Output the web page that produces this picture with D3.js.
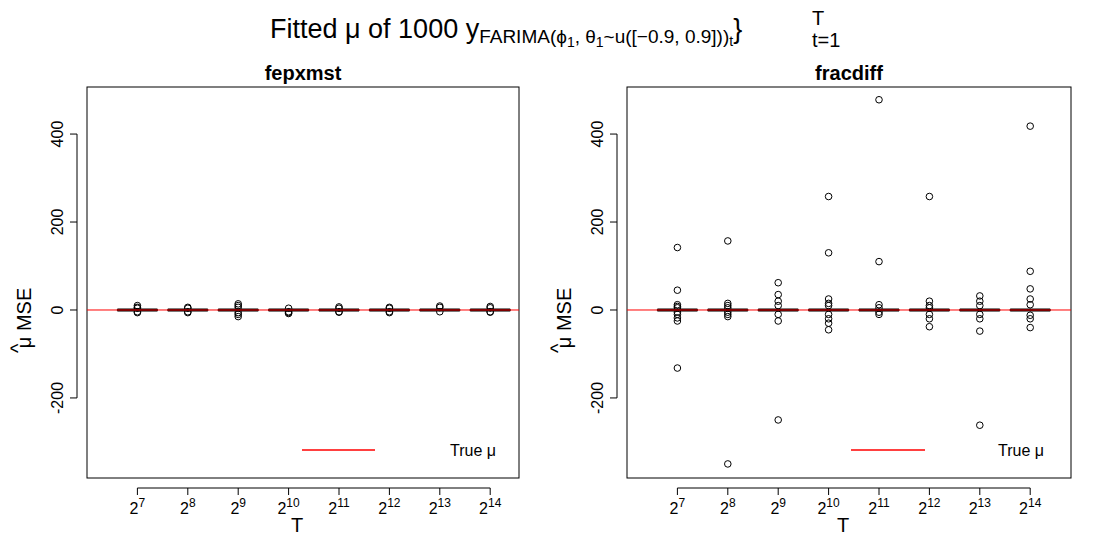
<!DOCTYPE html><html><head><meta charset="utf-8"><script src="https://cdn.jsdelivr.net/npm/d3@7"></script>
<style>body{margin:0;background:#fff}text{font-family:"Liberation Sans",Arial,sans-serif}</style></head><body>
<svg id="c" width="1100" height="550"></svg>
<script>
const categories=[7,8,9,10,11,12,13,14];
const panelNames=["fepxmst","fracdiff"];
const yTicks=[-200,0,200,400];
// box stats [q1, median, q3, whiskerLow, whiskerHigh] per group
const boxFep=[[-1,0,1,-3,3],[-1,0,1,-3,3],[-1,0,1,-3,3],[-1,0,1,-3,3],[-1,0,1,-3,3],[-1,0,1,-3,3],[-1,0,1,-3,3],[-1,0,1,-3,3]];
const outFep=[[10,6,4,-4,-6],[6,4,-4,-6],[14,10,6,-6,-10,-15],[4,-4,-6,-8],[7,4,-4,-5],[6,4,-4,-6],[9,6,-4],[8,5,-4,-5]];
const boxFrac=[[-1,0,1,-3,3],[-1,0,1,-3,3],[-1,0,1,-3,3],[-1,0,1,-3,3],[-1,0,1,-3,3],[-1,0,1,-3,3],[-1,0,1,-3,3],[-1,0,1,-3,3]];
const outFrac=[[142,45,12,8,5,-5,-10,-18,-25,-132],[157,15,10,5,-5,-10,-15,-350],[62,35,20,10,-10,-25,-250],[258,130,25,15,10,-10,-20,-30,-45],[478,110,12,5,-5,-10],[258,20,10,5,-10,-20,-38],[32,20,10,-10,-20,-48,-262],[418,88,48,25,12,-12,-20,-40]];
const svg=d3.select("#c");
const t=svg.append("text").attr("x",270).attr("y",38).attr("font-size",27);
t.append("tspan").text("Fitted μ of 1000  y");
t.append("tspan").attr("font-size",19).attr("dy",5).text("FARIMA(ϕ");
t.append("tspan").attr("font-size",14).attr("dy",4).text("1");
t.append("tspan").attr("font-size",19).attr("dy",-4).text(", θ");
t.append("tspan").attr("font-size",14).attr("dy",4).text("1");
t.append("tspan").attr("font-size",19).attr("dy",-4).text("~u([−0.9, 0.9]))");
t.append("tspan").attr("font-size",14).attr("dy",3).text("t");
t.append("tspan").attr("font-size",27).attr("dy",-8).text("}");
svg.append("text").attr("x",812).attr("y",25).attr("font-size",20).text("T");
svg.append("text").attr("x",812).attr("y",47).attr("font-size",20).text("t=1");
const panels=[{x0:87,x1:519,box:boxFep,out:outFep,name:panelNames[0],l0:302,l1:375,tx:450},{x0:627,x1:1071,box:boxFrac,out:outFrac,name:panelNames[1],l0:851,l1:925,tx:998}];
const y=d3.scaleLinear().domain([-382,507]).range([478,87]);
panels.forEach(p=>{
  const step=50.4;
  const x=d3.scaleLinear().domain([0,(p.x1-p.x0)/step]).range([p.x0,p.x1]);
  const g=svg.append("g");
  g.append("rect").attr("x",p.x0).attr("y",87).attr("width",p.x1-p.x0).attr("height",391).attr("fill","none").attr("stroke","#000");
  g.append("text").attr("x",(p.x0+p.x1)/2).attr("y",80).attr("text-anchor","middle").attr("font-size",20).attr("font-weight","bold").text(p.name);
  const ya=g.append("g").attr("transform",`translate(${p.x0-10},0)`);
  ya.append("line").attr("x1",0).attr("x2",0).attr("y1",y(-200)).attr("y2",y(400)).attr("stroke","#000");
  yTicks.forEach(v=>{ya.append("line").attr("x1",-7).attr("x2",0).attr("y1",y(v)).attr("y2",y(v)).attr("stroke","#000");
    ya.append("text").attr("transform",`translate(-14,${y(v)}) rotate(-90)`).attr("text-anchor","middle").attr("font-size",16).text(v<0?"-"+(-v):v);});
  const yl=g.append("g").attr("transform",`translate(${p.x0-56},${y(0)}) rotate(-90)`);
  yl.append("text").attr("text-anchor","middle").attr("font-size",20).text("μ   MSE").attr("x",-8);
  yl.append("text").attr("x",-43).attr("y",-6).attr("font-size",20).text("^");
  const xa=g.append("g").attr("transform","translate(0,488)");
  xa.append("line").attr("x1",x(1)).attr("x2",x(8)).attr("stroke","#000");
  categories.forEach((c,i)=>{xa.append("line").attr("x1",x(i+1)).attr("x2",x(i+1)).attr("y2",7).attr("stroke","#000");
    const tx=xa.append("text").attr("x",x(i+1)).attr("y",26).attr("text-anchor","middle").attr("font-size",16);
    tx.append("tspan").text("2");tx.append("tspan").attr("font-size",12).attr("dy",-7).text(c);});
  g.append("text").attr("x",(p.x0+p.x1)/2-6).attr("y",532).attr("text-anchor","middle").attr("font-size",20).text("T");
  p.box.forEach((b,i)=>{const cx=x(i+1),hw=20;
    g.append("line").attr("x1",cx).attr("x2",cx).attr("y1",y(b[3])).attr("y2",y(b[4])).attr("stroke","#000");
    g.append("rect").attr("x",cx-hw).attr("y",y(b[2])).attr("width",2*hw).attr("height",Math.max(1,y(b[0])-y(b[2]))).attr("fill","#fff").attr("stroke","#000");
    g.append("line").attr("x1",cx-hw).attr("x2",cx+hw).attr("y1",y(b[1])).attr("y2",y(b[1])).attr("stroke","#000").attr("stroke-width",3);
    p.out[i].forEach(v=>g.append("circle").attr("cx",cx).attr("cy",y(v)).attr("r",3.3).attr("fill","none").attr("stroke","#000"));});
  g.append("line").attr("x1",p.x0).attr("x2",p.x1).attr("y1",y(0)).attr("y2",y(0)).attr("stroke","#ff0000");
  g.append("line").attr("x1",p.l0).attr("x2",p.l1).attr("y1",450).attr("y2",450).attr("stroke","#ff0000").attr("stroke-width",1.5);
  g.append("text").attr("x",p.tx).attr("y",456).attr("font-size",16).text("True μ");
});
</script></body></html>
